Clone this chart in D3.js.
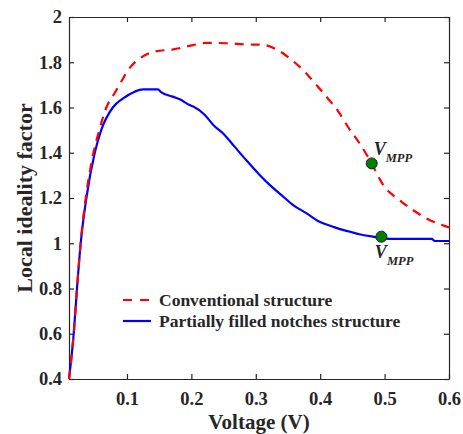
<!DOCTYPE html>
<html>
<head>
<meta charset="utf-8">
<script src="https://cdn.jsdelivr.net/npm/d3@7"></script>
<style>
  body { margin: 0; background: #fff; }
</style>
</head>
<body>
<script>
// voltage / ideality factor
var convV = [0.01, 0.0173, 0.0224, 0.028, 0.036, 0.048, 0.057, 0.068, 0.078, 0.091, 0.102, 0.12, 0.143, 0.172, 0.203, 0.223, 0.254, 0.285, 0.311, 0.332, 0.358, 0.376, 0.394, 0.412, 0.428, 0.443, 0.461, 0.477, 0.498, 0.523, 0.544, 0.565, 0.6];
var convN = [0.40, 0.6, 0.8, 1.0, 1.2, 1.4, 1.5, 1.6, 1.65, 1.714, 1.766, 1.817, 1.847, 1.857, 1.876, 1.886, 1.884, 1.879, 1.877, 1.857, 1.805, 1.758, 1.70, 1.64, 1.583, 1.515, 1.442, 1.368, 1.257, 1.191, 1.147, 1.11, 1.07];

var notchV = [0.01, 0.0173, 0.0224, 0.0282, 0.037, 0.05, 0.06, 0.078, 0.094, 0.112, 0.125, 0.148, 0.153, 0.171, 0.182, 0.197, 0.203, 0.221, 0.234, 0.249, 0.267, 0.285, 0.306, 0.322, 0.34, 0.358, 0.379, 0.399, 0.42, 0.435, 0.446, 0.461, 0.482, 0.513, 0.573, 0.578, 0.6];
var notchN = [0.40, 0.6, 0.8, 1.0, 1.2, 1.4, 1.5, 1.6, 1.64, 1.67, 1.68, 1.68, 1.668, 1.648, 1.636, 1.611, 1.604, 1.567, 1.523, 1.486, 1.427, 1.368, 1.302, 1.257, 1.213, 1.169, 1.132, 1.095, 1.073, 1.059, 1.051, 1.04, 1.029, 1.019, 1.019, 1.01, 1.01];

// maximum power points
var mppV = [0.48, 0.495];
var mppN = [1.353, 1.029];

var xTicks = [0.1, 0.2, 0.3, 0.4, 0.5, 0.6];
var yTicks = [0.4, 0.6, 0.8, 1, 1.2, 1.4, 1.6, 1.8, 2];
var seriesNames = ["Conventional structure", "Partially filled notches structure"];

var FONT = "'Liberation Serif', 'Tinos', 'Times New Roman'";

var width = 463, height = 434;
var margin = {left: 69, top: 17, right: 14, bottom: 55};
var w = width - margin.left - margin.right,
    h = height - margin.top - margin.bottom;

var svg = d3.select("body").append("svg")
    .attr("width", width)
    .attr("height", height);

var g = svg.append("g")
    .attr("transform", "translate(" + margin.left + "," + margin.top + ")");

var x = d3.scaleLinear().domain([0.01, 0.6]).range([0, w]);
var y = d3.scaleLinear().domain([0.4, 2]).range([h, 0]);

var fmt = function(d) { return String(+d.toFixed(1)); };

// axes, ticks pointing inward on all four sides
g.append("g")
    .attr("transform", "translate(0," + h + ")")
    .call(d3.axisBottom(x).tickValues(xTicks).tickFormat(fmt).tickSizeInner(-5).tickSizeOuter(0).tickPadding(13));
g.append("g")
    .call(d3.axisTop(x).tickValues(xTicks).tickSizeInner(-5).tickSizeOuter(0).tickFormat(""));
g.append("g")
    .call(d3.axisLeft(y).tickValues(yTicks).tickFormat(fmt).tickSizeInner(-5).tickSizeOuter(0).tickPadding(7));
g.append("g")
    .attr("transform", "translate(" + w + ",0)")
    .call(d3.axisRight(y).tickValues(yTicks).tickSizeInner(-5).tickSizeOuter(0).tickFormat(""));

g.selectAll(".domain, .tick line").attr("stroke", "#262626").attr("stroke-width", 1.2);
g.selectAll(".tick text")
    .attr("fill", "#262626")
    .style("font-size", "18.5px");

var line = d3.line()
    .x(function(d) { return x(d[0]); })
    .y(function(d) { return y(d[1]); })
    .curve(d3.curveMonotoneX);

g.append("path")
    .datum(d3.zip(notchV, notchN))
    .attr("d", line)
    .attr("fill", "none")
    .attr("stroke", "#0000ff")
    .attr("stroke-width", 2.2);

g.append("path")
    .datum(d3.zip(convV, convN))
    .attr("d", line)
    .attr("fill", "none")
    .attr("stroke", "#ff0000")
    .attr("stroke-width", 2.2)
    .attr("stroke-dasharray", "9,7");

// MPP markers
g.selectAll("circle.mpp")
    .data(d3.zip(mppV, mppN))
    .enter().append("circle")
    .attr("class", "mpp")
    .attr("cx", function(d) { return x(d[0]); })
    .attr("cy", function(d) { return y(d[1]); })
    .attr("r", 5.5)
    .attr("fill", "#008000")
    .attr("stroke", "#1a1a1a")
    .attr("stroke-width", 1);

var lblOff = [[2, -8], [-6.5, 21.5]];
g.selectAll("text.mppl")
    .data(d3.zip(mppV, mppN))
    .enter().append("text")
    .attr("class", "mppl")
    .attr("x", function(d, i) { return x(d[0]) + lblOff[i][0]; })
    .attr("y", function(d, i) { return y(d[1]) + lblOff[i][1]; })
    .attr("fill", "#262626")
    .style("font-style", "italic")
    .style("font-size", "18px")
    .each(function() {
      var t = d3.select(this);
      t.append("tspan").text("V");
      t.append("tspan").attr("dy", 6.5).attr("dx", 0).style("font-size", "12.5px").text("MPP");
    });

// legend
var leg = g.append("g").attr("transform", "translate(54,283)");
var legStyles = [{c: "#ff0000", dash: "9,8"}, {c: "#0000ff", dash: null}];
seriesNames.forEach(function(name, i) {
  var r = leg.append("g").attr("transform", "translate(0," + (i * 21) + ")");
  r.append("line")
    .attr("x1", 0).attr("x2", 28).attr("y1", 0).attr("y2", 0)
    .attr("stroke", legStyles[i].c)
    .attr("stroke-width", 2.2)
    .attr("stroke-dasharray", legStyles[i].dash);
  r.append("text")
    .attr("x", 36).attr("y", 6)
    .attr("fill", "#262626")
    .style("font-size", "17.5px")
    .text(name);
});

// axis titles
svg.append("text")
    .attr("x", margin.left + w / 2)
    .attr("y", 429)
    .attr("text-anchor", "middle")
    .attr("fill", "#262626")
    .style("font-size", "21px")
    .text("Voltage (V)");

svg.append("text")
    .attr("transform", "translate(31.5," + (margin.top + h / 2) + ") rotate(-90)")
    .attr("text-anchor", "middle")
    .attr("fill", "#262626")
    .style("font-size", "22px")
    .text("Local ideality factor");

// same serif face on every text
svg.selectAll("text")
    .style("font-family", FONT)
    .style("font-weight", "bold");
</script>
</body>
</html>
